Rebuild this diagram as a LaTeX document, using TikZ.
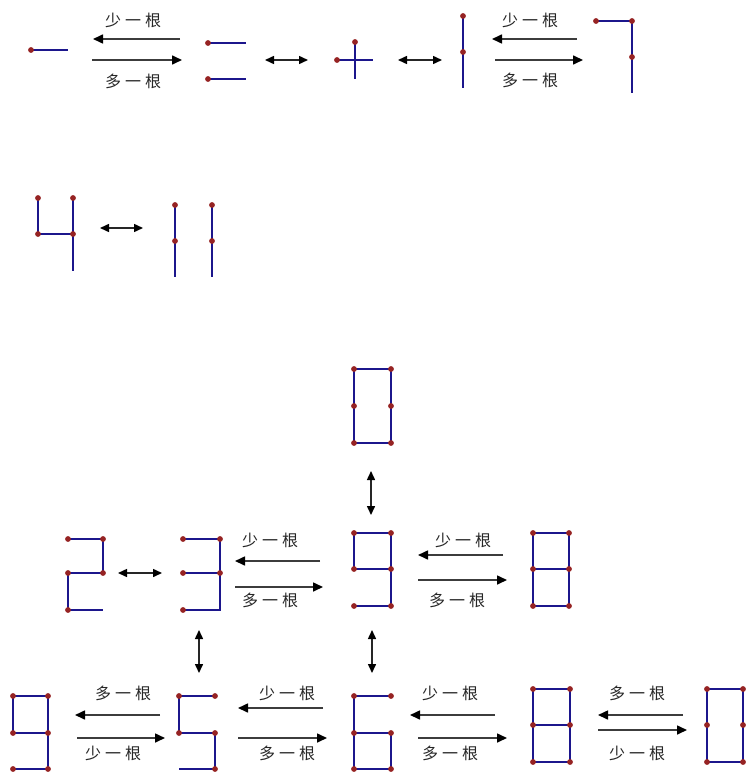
\documentclass[tikz,border=0pt]{standalone}
\usepackage{fontspec}
\newfontfamily\cjk{Noto Sans CJK SC}
\usetikzlibrary{arrows.meta}
\definecolor{stickblue}{RGB}{28,22,140}
\definecolor{dotred}{RGB}{150,35,35}
\definecolor{arrgray}{RGB}{60,60,60}
\newcommand\mypins[1]{\foreach \p in {#1} {\fill[pin] \p circle (2.9pt);}}
\begin{document}
\begin{tikzpicture}[x=1pt,y=-1pt,
  stick/.style={draw=stickblue,line width=2.7pt},
  pin/.style={fill=dotred},
  onearrow/.style={draw=arrgray,line width=1.6pt,-{Triangle[length=10pt,width=9pt,color=black]}},
  twoarrow/.style={draw=black!85,line width=1.5pt,{Triangle[length=9pt,width=8pt,color=black]}-{Triangle[length=9pt,width=8pt,color=black]}},
  lbl/.style={font=\cjk\fontsize{16}{16}\selectfont, text=black!85, inner sep=0pt}]
\useasboundingbox (0,0) rectangle (749,778);

% ---------- digits ----------
% yi
\draw[stick] (31,50) -- (68,50);
\mypins{(31,50)}
% er
\draw[stick] (208,43) -- (246,43);
\draw[stick] (208,79) -- (246,79);
\mypins{(208,43),(208,79)}
% shi
\draw[stick] (337,60) -- (373,60);
\draw[stick] (355,42) -- (355,79);
\mypins{(337,60),(355,42)}
% |
\draw[stick] (463,16) -- (463,88);
\mypins{(463,16),(463,52)}
% 7
\draw[stick] (596,21) -- (632,21) -- (632,93);
\mypins{(596,21),(632,21),(632,57)}
% 4
\draw[stick] (38,198) -- (38,234) -- (73,234);
\draw[stick] (73,198) -- (73,271);
\mypins{(38,198),(73,198),(38,234),(73,234)}
% 11
\draw[stick] (175,205) -- (175,277);
\draw[stick] (212,205) -- (212,277);
\mypins{(175,205),(175,241),(212,205),(212,241)}
% 0 top
\draw[stick] (354,369) rectangle (391,443);
\mypins{(354,369),(391,369),(354,406),(391,406),(354,443),(391,443)}
% 2
\draw[stick] (68,539) -- (103,539) -- (103,573) -- (68,573) -- (68,610) -- (103,610);
\mypins{(68,539),(103,539),(68,573),(103,573),(68,610)}
% 3
\draw[stick] (183,539) -- (220,539) -- (220,610) -- (183,610);
\draw[stick] (183,573) -- (220,573);
\mypins{(183,539),(220,539),(183,573),(220,573),(183,610)}
% 9 middle
\draw[stick] (391,569) -- (354,569) -- (354,533) -- (391,533) -- (391,606) -- (354,606);
\mypins{(354,533),(391,533),(354,569),(391,569),(354,606),(391,606)}
% 8 middle
\draw[stick] (533,533) rectangle (569,606);
\draw[stick] (533,569) -- (569,569);
\mypins{(533,533),(569,533),(533,569),(569,569),(533,606),(569,606)}
% 9 bottom left
\draw[stick] (48,733) -- (13,733) -- (13,696) -- (48,696) -- (48,769) -- (13,769);
\mypins{(13,696),(48,696),(13,733),(48,733),(13,769),(48,769)}
% 5
\draw[stick] (215,696) -- (179,696) -- (179,733) -- (215,733) -- (215,769) -- (179,769);
\mypins{(179,696),(215,696),(179,733),(215,733),(215,769)}
% 6
\draw[stick] (391,696) -- (354,696) -- (354,769) -- (391,769) -- (391,733) -- (354,733);
\mypins{(354,696),(391,696),(354,733),(391,733),(354,769),(391,769)}
% 8 bottom
\draw[stick] (533,689) rectangle (570,762);
\draw[stick] (533,725) -- (570,725);
\mypins{(533,689),(570,689),(533,725),(570,725),(533,762),(570,762)}
% 0 bottom
\draw[stick] (707,689) rectangle (743,762);
\mypins{(707,689),(743,689),(707,725),(743,725),(707,762),(743,762)}

% ---------- arrow end points ----------
\coordinate (a1s) at (180,39);  \coordinate (a1e) at (93,39);
\coordinate (a2s) at (92,60);   \coordinate (a2e) at (182,60);
\coordinate (d1s) at (265,60);  \coordinate (d1e) at (308,60);
\coordinate (d2s) at (398,60);  \coordinate (d2e) at (442,60);
\coordinate (a3s) at (577,39);  \coordinate (a3e) at (492,39);
\coordinate (a4s) at (495,60);  \coordinate (a4e) at (583,60);
\coordinate (d3s) at (100,228); \coordinate (d3e) at (143,228);
\coordinate (v1s) at (371,471); \coordinate (v1e) at (371,515);
\coordinate (d4s) at (118,573); \coordinate (d4e) at (162,573);
\coordinate (a5s) at (320,561); \coordinate (a5e) at (235,561);
\coordinate (a6s) at (235,587); \coordinate (a6e) at (323,587);
\coordinate (a7s) at (503,555); \coordinate (a7e) at (418,555);
\coordinate (a8s) at (418,580); \coordinate (a8e) at (507,580);
\coordinate (v2s) at (199,630); \coordinate (v2e) at (199,673);
\coordinate (v3s) at (372,630); \coordinate (v3e) at (372,673);
\coordinate (a9s) at (160,715); \coordinate (a9e) at (75,715);
\coordinate (a10s) at (77,738); \coordinate (a10e) at (165,738);
\coordinate (a11s) at (323,708); \coordinate (a11e) at (238,708);
\coordinate (a12s) at (238,738); \coordinate (a12e) at (327,738);
\coordinate (a13s) at (495,715); \coordinate (a13e) at (410,715);
\coordinate (a14s) at (418,738); \coordinate (a14e) at (507,738);
\coordinate (a15s) at (683,715); \coordinate (a15e) at (598,715);
\coordinate (a16s) at (598,730); \coordinate (a16e) at (687,730);

% ---------- arrows ----------
\foreach \n in {a1,a2,a3,a4,a5,a6,a7,a8,a9,a10,a11,a12,a13,a14,a15,a16}
  {\draw[onearrow] (\n s) -- (\n e);}
\foreach \n in {d1,d2,d3,d4,v1,v2,v3}
  {\draw[twoarrow] (\n s) -- (\n e);}

% ---------- labels ----------
\newcommand\shao{少\hspace{4pt}一\hspace{4pt}根}
\newcommand\duo{多\hspace{4pt}一\hspace{4pt}根}
\node[lbl] (l1) at (133,20) {\shao};
\node[lbl] (l2) at (133,81) {\duo};
\node[lbl] (l3) at (530,20) {\shao};
\node[lbl] (l4) at (530,80) {\duo};
\node[lbl] (l5) at (270,540) {\shao};
\node[lbl] (l6) at (270,600) {\duo};
\node[lbl] (l7) at (463,540) {\shao};
\node[lbl] (l8) at (457,600) {\duo};
\node[lbl] (l9) at (123,693) {\duo};
\node[lbl] (l10) at (113,753) {\shao};
\node[lbl] (l11) at (287,693) {\shao};
\node[lbl] (l12) at (287,753) {\duo};
\node[lbl] (l13) at (450,693) {\shao};
\node[lbl] (l14) at (450,753) {\duo};
\node[lbl] (l15) at (637,693) {\duo};
\node[lbl] (l16) at (637,753) {\shao};
\end{tikzpicture}
\end{document}
